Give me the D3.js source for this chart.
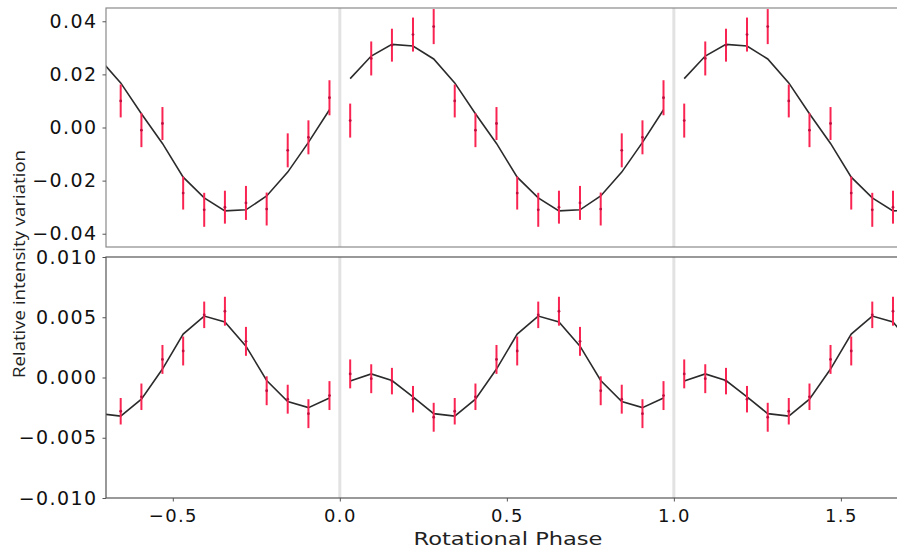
<!DOCTYPE html>
<html>
<head>
<meta charset="utf-8">
<script src="https://cdn.jsdelivr.net/npm/d3@7"></script>
<style>
  body { margin: 0; background: #fff; }
  text { font-family: 'DejaVu Sans', sans-serif; }
</style>
</head>
<body>
<div id="chart"></div>
<script>
// rotational phase bins (16 per cycle)
const phase = [0.031, 0.094, 0.156, 0.219, 0.281, 0.344, 0.406, 0.469,
  0.531, 0.594, 0.656, 0.719, 0.781, 0.844, 0.906, 0.969]
// the folded curve is repeated once per cycle
const cycles = [-1, 0, 1]

// top panel: observed, error, model
const topObs = [0.0026, 0.026, 0.031, 0.035, 0.038, 0.010, -0.001, 0.0015,
  -0.0247, -0.031, -0.030, -0.0284, -0.0307, -0.0086, -0.0037, 0.0112]
const topErr = [0.0064, 0.0064, 0.0062, 0.0064, 0.0066, 0.0062, 0.0064, 0.0062,
  0.0062, 0.0064, 0.0062, 0.0064, 0.0062, 0.0064, 0.0064, 0.0066]
const topModel = [0.0184, 0.0269, 0.0313, 0.0307, 0.0258, 0.0168, 0.0052, -0.006,
  -0.0187, -0.0265, -0.0314, -0.031, -0.0258, -0.0168, -0.0056, 0.0067]

// bottom panel: observed, error, model
const botObs = [0.0003, -0.0001, -0.0003, -0.0018, -0.0033, -0.0028, -0.0016, 0.0015,
  0.0022, 0.0052, 0.0055, 0.003, -0.0011, -0.0018, -0.003, -0.0015]
const botErr = [0.0012, 0.0012, 0.0011, 0.0011, 0.0012, 0.0011, 0.0011, 0.0012,
  0.0012, 0.0011, 0.0012, 0.0012, 0.0012, 0.0012, 0.0012, 0.0012]
const botModel = [-0.0003, 0.0003, -0.00025, -0.0016, -0.003, -0.0032, -0.0018, 0.0007,
  0.0036, 0.0051, 0.0046, 0.0026, -0.00025, -0.002, -0.0025, -0.0017]

const xTicks = [-0.5, 0, 0.5, 1, 1.5]
const topTicks = [-0.04, -0.02, 0, 0.02, 0.04]
const botTicks = [-0.01, -0.005, 0, 0.005, 0.01]
const phaseMarks = [0, 1]

let width = 897
let height = 549

let svg = d3.select('#chart')
  .append('svg')
  .attr('width', width)
  .attr('height', height)

let x = d3.scaleLinear().domain([-0.7, 1.668]).range([106, 897])

let panels = [
  { id: 'top', obs: topObs, err: topErr, model: topModel, ticks: topTicks, fmt: d3.format('.2f'),
    y: d3.scaleLinear().domain([-0.045, 0.045]).range([247, 8]) },
  { id: 'bot', obs: botObs, err: botErr, model: botModel, ticks: botTicks, fmt: d3.format('.3f'),
    y: d3.scaleLinear().domain([-0.01, 0.01]).range([498, 257]) }
]

panels.forEach((p, k) => {
  let y0 = p.y.range()[1]
  let y1 = p.y.range()[0]

  svg.append('clipPath')
    .attr('id', 'clip-' + p.id)
    .append('rect')
    .attr('x', 106).attr('y', y0)
    .attr('width', 800).attr('height', y1 - y0)

  let g = svg.append('g').attr('clip-path', `url(#clip-${p.id})`)

  // light vertical lines at integer phase
  g.selectAll('.pm')
    .data(phaseMarks)
    .enter()
    .append('line')
    .attr('x1', d => x(d)).attr('x2', d => x(d))
    .attr('y1', y0).attr('y2', y1)
    .attr('stroke', '#e2e2e2')
    .attr('stroke-width', 3)

  let pts = []
  cycles.forEach(c => {
    phase.forEach((ph, i) => pts.push({ x: ph + c, v: p.obs[i], e: p.err[i] }))
  })

  // model, one segment per cycle
  let line = d3.line().x(d => x(d[0])).y(d => p.y(d[1]))
  g.selectAll('.model')
    .data(cycles.map(c => phase.map((ph, i) => [ph + c, p.model[i]])))
    .enter()
    .append('path')
    .attr('d', line)
    .attr('fill', 'none')
    .attr('stroke', '#2b2b2b')
    .attr('stroke-width', 1.6)

  // error bars
  g.selectAll('.err')
    .data(pts)
    .enter()
    .append('line')
    .attr('x1', d => x(d.x)).attr('x2', d => x(d.x))
    .attr('y1', d => p.y(d.v - d.e)).attr('y2', d => p.y(d.v + d.e))
    .attr('stroke', '#fa2452')
    .attr('stroke-width', 2)

  g.selectAll('.dot')
    .data(pts)
    .enter()
    .append('circle')
    .attr('cx', d => x(d.x)).attr('cy', d => p.y(d.v))
    .attr('r', 1.4)
    .attr('fill', '#c01040')

  // frame
  svg.append('rect')
    .attr('x', 106).attr('y', y0)
    .attr('width', 820).attr('height', y1 - y0)
    .attr('fill', 'none')
    .attr('stroke', k == 0 ? '#8a8a8a' : '#555')
    .attr('stroke-width', 1.2)

  // y axis
  let ya = svg.append('g')
    .attr('transform', 'translate(106,0)')
    .call(d3.axisLeft(p.y).tickValues(p.ticks).tickFormat(p.fmt).tickSize(3.5).tickPadding(5))
  ya.select('.domain').remove()
  ya.selectAll('line').attr('stroke', '#555')
  ya.selectAll('text')
    .attr('font-size', 19)
    .attr('letter-spacing', 1.4)
    .attr('fill', '#111')
})

// x axis on the bottom panel
let xa = svg.append('g')
  .attr('transform', 'translate(0,498)')
  .call(d3.axisBottom(x).tickValues(xTicks).tickFormat(d3.format('.1f')).tickSize(3.5).tickPadding(8))
xa.select('.domain').remove()
xa.selectAll('line').attr('stroke', '#555')
xa.selectAll('text')
  .attr('font-size', 18)
  .attr('letter-spacing', 1.4)
  .attr('fill', '#111')

svg.append('text')
  .attr('x', 508)
  .attr('y', 545)
  .attr('text-anchor', 'middle')
  .attr('font-size', 18)
  .attr('textLength', 189)
  .attr('lengthAdjust', 'spacingAndGlyphs')
  .attr('fill', '#222')
  .text('Rotational Phase')

svg.append('text')
  .attr('transform', 'translate(25,264) rotate(-90)')
  .attr('text-anchor', 'middle')
  .style('font-family', "'Open Sans', sans-serif")
  .attr('font-size', 16)
  .attr('textLength', 228)
  .attr('lengthAdjust', 'spacingAndGlyphs')
  .attr('fill', '#222')
  .text('Relative intensity variation')
</script>
</body>
</html>
